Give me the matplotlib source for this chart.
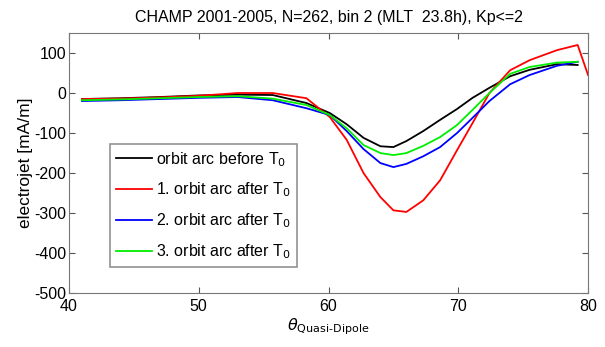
import numpy as np
import matplotlib
matplotlib.use('Agg')
import matplotlib.pyplot as plt

plt.rcParams['font.family'] = ['Liberation Sans', 'DejaVu Sans']
plt.rcParams['axes.unicode_minus'] = False

# latitude grid (quasi-dipole) and electrojet values
lat = [41, 44, 47, 50, 53, 55.7, 58.3, 60.1, 61.4, 62.7, 64.0, 65.0, 66.0,
       67.3, 68.6, 69.9, 71.1, 72.4, 74.0, 75.5, 77.6, 79.2, 80.0]
before = [-15, -13, -10, -6, -4, -5, -25, -50, -78, -112, -133, -135, -120,
          -95, -67, -40, -12, 13, 42, 58, 72, 70, None]
after1 = [-15, -14, -11, -7, 0, 0, -13, -60, -117, -200, -260, -293, -297,
          -268, -218, -143, -75, 0, 57, 82, 107, 120, 45]
after2 = [-20, -18, -15, -12, -10, -18, -38, -55, -95, -140, -175, -185, -177,
          -158, -135, -100, -62, -20, 22, 45, 68, 78, None]
after3 = [-18, -16, -13, -10, -8, -14, -30, -55, -88, -130, -150, -155, -150,
          -132, -110, -80, -42, 0, 48, 65, 76, 78, None]

labels = ['orbit arc before T$_0$', '1. orbit arc after T$_0$',
          '2. orbit arc after T$_0$', '3. orbit arc after T$_0$']
colors = ['k', '#ff0000', '#0000ff', '#00ee00']

fig = plt.figure(figsize=(6.05, 3.47), dpi=100)
ax = fig.add_axes([0.114, 0.155, 0.858, 0.75])

for ys, c, lab in zip([before, after1, after2, after3], colors, labels):
    y = np.array([np.nan if v is None else v for v in ys], dtype=float)
    ax.plot(lat, y, color=c, lw=1.3, label=lab)

ax.set_xlim(40, 80)
ax.set_ylim(-500, 150)
ax.set_xticks([40, 50, 60, 70, 80])
ax.set_yticks([-500, -400, -300, -200, -100, 0, 100])
ax.tick_params(direction='in', top=True, right=True, labelsize=11.5, length=4,
               color='#555555', pad=2)
ax.tick_params(axis='x', pad=4)
for s in ax.spines.values():
    s.set_color('#777777')

ax.set_title('CHAMP 2001-2005, N=262, bin 2 (MLT  23.8h), Kp<=2', fontsize=11.5, pad=8)
ax.set_ylabel('electrojet [mA/m]', fontsize=12.5, labelpad=1)
ax.set_xlabel(r'$\theta_{\mathrm{Quasi}\text{-}\mathrm{Dipole}}$', fontsize=11.5, labelpad=2)

leg = ax.legend(loc='lower left', bbox_to_anchor=(0.079, 0.1), fontsize=11.5,
                frameon=True, fancybox=False, edgecolor='#777777',
                handlelength=2.2, handletextpad=0.3, borderpad=0.4,
                labelspacing=0.75, borderaxespad=0)
leg.get_frame().set_linewidth(1.2)

fig.savefig('out.png', dpi=100)
